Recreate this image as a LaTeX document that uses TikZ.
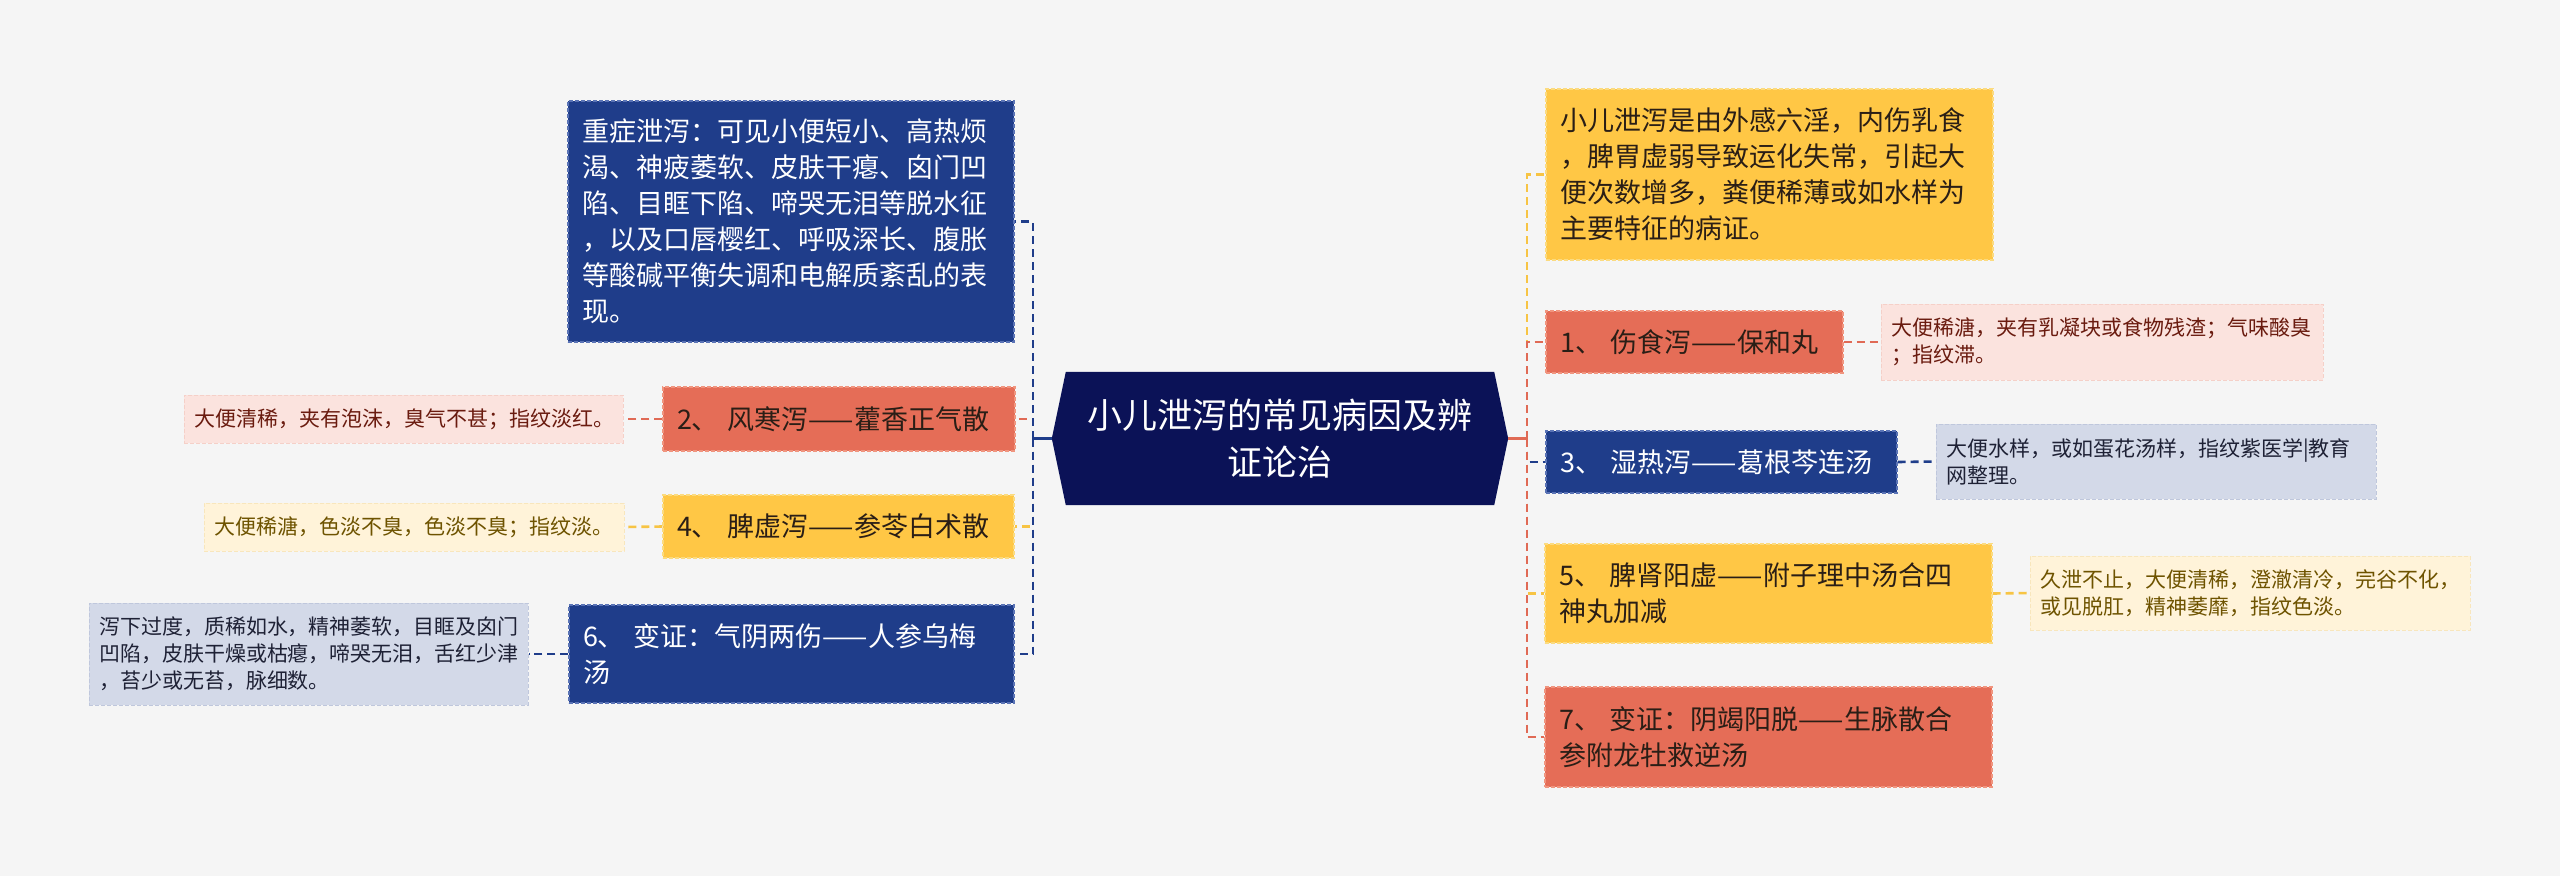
\documentclass[tikz,border=0pt]{standalone}
\usepackage{fontspec}
\newfontfamily\cjk{Noto Sans CJK SC}
\usetikzlibrary{backgrounds,calc}
\definecolor{bgc}{HTML}{F5F5F5}
\definecolor{navy}{HTML}{0B1257}
\definecolor{nblue}{HTML}{1F3D8A}
\definecolor{nblueb}{HTML}{5A73B5}
\definecolor{nred}{HTML}{E56D57}
\definecolor{nredb}{HTML}{F0957F}
\definecolor{nyel}{HTML}{FFC745}
\definecolor{nyelb}{HTML}{FBDB80}
\definecolor{dred}{HTML}{FBE3DE}
\definecolor{dredb}{HTML}{F5D0C8}
\definecolor{dredt}{HTML}{6A1B0F}
\definecolor{dyel}{HTML}{FFF3D9}
\definecolor{dyelb}{HTML}{F8E6BC}
\definecolor{dyelt}{HTML}{6E5300}
\definecolor{dblue}{HTML}{D3D9E8}
\definecolor{dblueb}{HTML}{BFC7DC}
\definecolor{dbluet}{HTML}{1E2135}
\definecolor{darkt}{HTML}{2A1E16}
\definecolor{lblue}{HTML}{1F3D8A}
\definecolor{lred}{HTML}{E06A55}
\definecolor{lyel}{HTML}{F7C444}
\begin{document}
\begin{tikzpicture}[x=1pt,y=-1pt,
  base/.style={rectangle, anchor=center, align=left, inner ysep=0pt},
  mainbox/.style={base, inner xsep=14pt, font=\cjk\fontsize{27}{36}\selectfont,
     dash pattern=on 4pt off 2pt, line width=1.2pt},
  detbox/.style={base, inner xsep=10pt, font=\cjk\fontsize{21}{27}\selectfont,
     dash pattern=on 4pt off 2pt, line width=1pt},
  bluebox/.style={mainbox, fill=nblue, draw=nblueb, text=white},
  redbox/.style={mainbox, fill=nred, draw=nredb, text=darkt},
  yelbox/.style={mainbox, fill=nyel, draw=nyelb, text=darkt},
  dredbox/.style={detbox, fill=dred, draw=dredb, text=dredt},
  dyelbox/.style={detbox, fill=dyel, draw=dyelb, text=dyelt},
  dbluebox/.style={detbox, fill=dblue, draw=dblueb, text=dbluet},
  conn/.style={line width=2.6pt, dash pattern=on 8pt off 5pt},
  stub/.style={line width=2.6pt}
]
\useasboundingbox (0,0) rectangle (2560,876);
\begin{scope}[on background layer]
  \fill[bgc] (0,0) rectangle (2560,876);
\end{scope}

% center
\node[base, minimum width=456pt, minimum height=133pt, inner sep=0pt, align=center,
      text=white, font=\cjk\fontsize{35}{46.5}\selectfont] (c) at (1280,438.5)
  {小儿泄泻的常见病因及辨\\证论治};
\begin{scope}[on background layer]
  \fill[navy] (c.west) -- ($(c.north west)+(14,0)$) -- ($(c.north east)+(-14,0)$)
     -- (c.east) -- ($(c.south east)+(-14,0)$) -- ($(c.south west)+(14,0)$) -- cycle;
\end{scope}

% left nodes
\node[bluebox, text width=418pt, minimum height=241pt] (L1) at (791,221.5)
  {重症泄泻：可见小便短小、高热烦\\渴、神疲萎软、皮肤干瘪、囟门凹\\陷、目眶下陷、啼哭无泪等脱水征\\，以及口唇樱红、呼吸深长、腹胀\\等酸碱平衡失调和电解质紊乱的表\\现。};
\node[redbox, text width=324pt, minimum height=64pt] (L2) at (839,419)
  {2、~风寒泻——藿香正气散};
\node[dredbox, text width=419pt, minimum height=48pt] (D2) at (403.5,419)
  {大便清稀，夹有泡沫，臭气不甚；指纹淡红。};
\node[yelbox, text width=323pt, minimum height=63pt] (L4) at (838.5,526.5)
  {4、~脾虚泻——参苓白术散};
\node[dyelbox, text width=400pt, minimum height=48pt] (D4) at (414,527)
  {大便稀溏，色淡不臭，色淡不臭；指纹淡。};
\node[bluebox, text width=417pt, minimum height=98pt] (L6) at (791.5,654)
  {6、~变证：气阴两伤——人参乌梅\\汤};
\node[dbluebox, text width=419pt, minimum height=102pt] (D6) at (308.5,654)
  {泻下过度，质稀如水，精神萎软，目眶及囟门\\凹陷，皮肤干燥或枯瘪，啼哭无泪，舌红少津\\，苔少或无苔，脉细数。};

% right nodes
\node[yelbox, text width=419pt, minimum height=171pt] (R0) at (1769.5,174.5)
  {小儿泄泻是由外感六淫，内伤乳食\\，脾胃虚弱导致运化失常，引起大\\便次数增多，粪便稀薄或如水样为\\主要特征的病证。};
\node[redbox, text width=269pt, minimum height=62pt] (R1) at (1694.5,342)
  {1、~伤食泻——保和丸};
\node[dredbox, text width=422pt, minimum height=76pt] (D1) at (2102,342)
  {大便稀溏，夹有乳凝块或食物残渣；气味酸臭\\；指纹滞。};
\node[bluebox, text width=323pt, minimum height=62pt] (R3) at (1721.5,462)
  {3、~湿热泻——葛根芩连汤};
\node[dbluebox, text width=420pt, minimum height=75pt] (D3) at (2156,461.5)
  {大便水样，或如蛋花汤样，指纹紫医学|教育\\网整理。};
\node[yelbox, text width=419pt, minimum height=99pt] (R5) at (1768.5,593.5)
  {5、~脾肾阳虚——附子理中汤合四\\神丸加减};
\node[dyelbox, text width=420pt, minimum height=74pt] (D5) at (2250,593)
  {久泄不止，大便清稀，澄澈清冷，完谷不化，\\或见脱肛，精神萎靡，指纹色淡。};
\node[redbox, text width=419pt, minimum height=100pt] (R7) at (1768.5,737)
  {7、~变证：阴竭阳脱——生脉散合\\参附龙牡救逆汤};

% junctions
\coordinate (lj) at (1033,438.5);
\coordinate (rj) at (1527,438.5);

\begin{scope}[on background layer]
% left connectors
\draw[conn, lred] (lj) |- (L2.east);
\draw[conn, lyel] (lj) |- (L4.east);
\draw[conn, lblue] (lj) |- (L1.east);
\draw[conn, lblue] (lj) |- (L6.east);
\draw[stub, lblue] (c.west) -- (lj);
% right connectors
\draw[conn, lyel] (rj) |- (R0.west);
\draw[conn, lred] (rj) |- (R1.west);
\draw[conn, lblue] (rj) |- (R3.west);
\draw[conn, lyel] (rj) |- (R5.west);
\draw[conn, lred] (rj) |- (R7.west);
\draw[stub, lred] (c.east) -- (rj);
% detail connectors
\draw[conn, lred] (L2.west) -- (D2.east);
\draw[conn, lyel] (L4.west) -- (D4.east);
\draw[conn, lblue] (L6.west) -- (D6.east);
\draw[conn, lred] (R1.east) -- (D1.west);
\draw[conn, lblue] (R3.east) -- (D3.west);
\draw[conn, lyel] (R5.east) -- (D5.west);
\end{scope}
\end{tikzpicture}
\end{document}
